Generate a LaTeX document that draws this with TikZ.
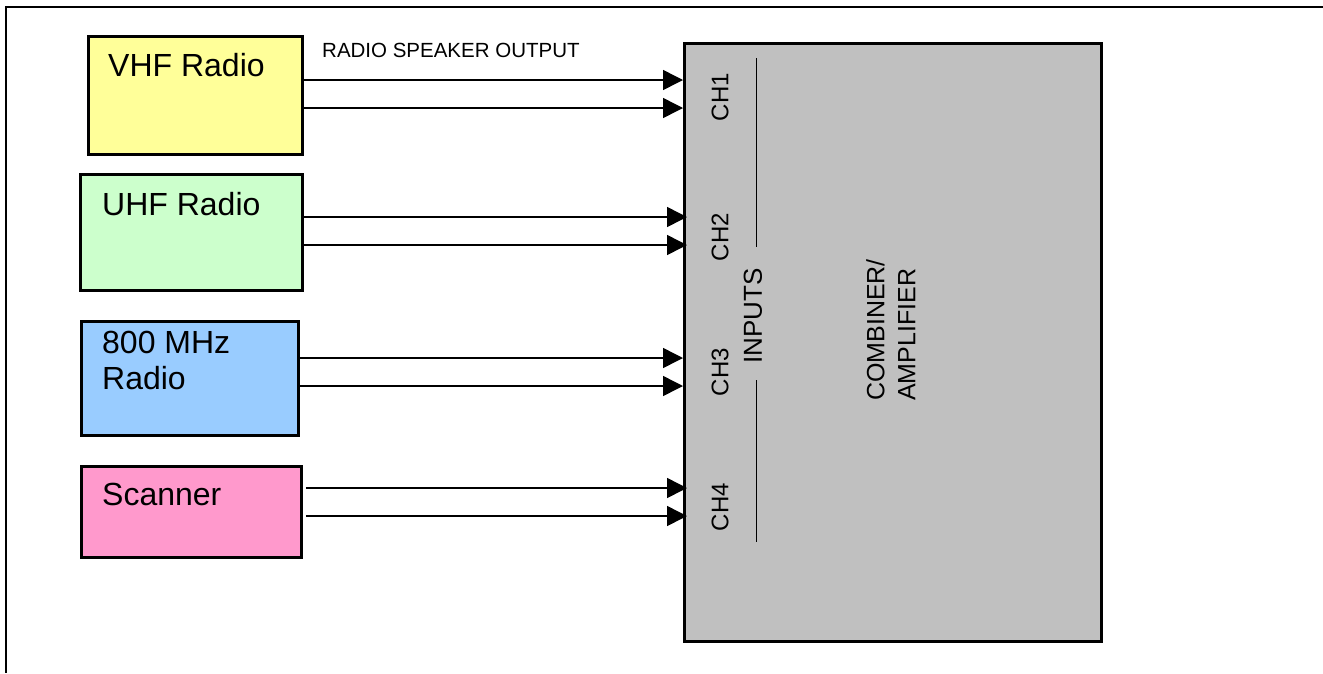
\documentclass[tikz,border=0pt]{standalone}
\usepackage{fontspec}
\setmainfont{Liberation Sans}
\usetikzlibrary{arrows.meta}
\definecolor{vhfc}{HTML}{FFFF99}
\definecolor{uhfc}{HTML}{CCFFCC}
\definecolor{mhzc}{HTML}{99CCFF}
\definecolor{scnc}{HTML}{FF99CC}
\definecolor{combc}{HTML}{C0C0C0}
\tikzset{
  radiobox/.style={draw=black, line width=2.8pt, inner sep=0pt, anchor=north west},
  boxtext/.style={anchor=base west, inner sep=0pt, font=\fontsize{32}{36}\selectfont},
  sig/.style={line width=1.5pt, -{Triangle[length=20pt,width=20pt]}},
  chlabel/.style={rotate=90, inner sep=0pt, font=\fontsize{24}{28}\selectfont},
  divider/.style={line width=1pt},
  frame/.style={line width=2.4pt}
}
\begin{document}
\begin{tikzpicture}[x=1pt,y=-1pt]
\useasboundingbox (0,0) rectangle (1323,673);
% outer frame (top and left edges visible)
\coordinate (ftr) at (1323,7);
\coordinate (ftl) at (6,7);
\coordinate (fbl) at (6,673);
\draw[frame] (ftr) -- (ftl) -- (fbl);
% radio boxes
\node[radiobox, fill=vhfc, minimum width=214pt, minimum height=118pt] (vhf) at (87,35) {};
\node[radiobox, fill=uhfc, minimum width=222pt, minimum height=116pt] (uhf) at (79,173) {};
\node[radiobox, fill=mhzc, minimum width=217pt, minimum height=114pt] (mhz) at (80,320) {};
\node[radiobox, fill=scnc, minimum width=220pt, minimum height=91pt] (scn) at (80,465) {};
\node[boxtext] (tvhf) at (108,76) {VHF Radio};
\node[boxtext] (tuhf) at (102,215) {UHF Radio};
\node[boxtext, align=left, anchor=north west] (tmhz) at (102,331) {800 MHz\\[-0.5pt]Radio};
\node[boxtext] (tscn) at (102,505) {Scanner};
% combiner
\node[radiobox, fill=combc, minimum width=417pt, minimum height=598pt] (comb) at (683,42) {};
% label
\node[anchor=base west, inner sep=0pt, font=\fontsize{20.5}{24}\selectfont] (rso) at (322,57) {RADIO SPEAKER OUTPUT};
% signal y levels
\coordinate (a1) at (0,80);  \coordinate (a2) at (0,108);
\coordinate (b1) at (0,217); \coordinate (b2) at (0,245);
\coordinate (c1) at (0,358); \coordinate (c2) at (0,386);
\coordinate (d1) at (0,488); \coordinate (d2) at (0,516);
\draw[sig] (vhf.east |- a1) -- (comb.west |- a1);
\draw[sig] (vhf.east |- a2) -- (comb.west |- a2);
\draw[sig] (uhf.east |- b1) -- ([xshift=4pt]comb.west |- b1);
\draw[sig] (uhf.east |- b2) -- ([xshift=4pt]comb.west |- b2);
\draw[sig] (mhz.east |- c1) -- (comb.west |- c1);
\draw[sig] (mhz.east |- c2) -- (comb.west |- c2);
\draw[sig] ([xshift=3pt]scn.east |- d1) -- ([xshift=4pt]comb.west |- d1);
\draw[sig] ([xshift=3pt]scn.east |- d2) -- ([xshift=4pt]comb.west |- d2);
% channel labels
\node[chlabel] (ch1) at (720,97) {CH1};
\node[chlabel] (ch2) at (720,237) {CH2};
\node[chlabel] (ch3) at (720,372) {CH3};
\node[chlabel] (ch4) at (720,507) {CH4};
\node[chlabel, font=\fontsize{26}{30}\selectfont] (inp) at (753,316) {INPUTS};
% dividers
\coordinate (l1t) at (756,58);  \coordinate (l1b) at (756,247);
\coordinate (l2t) at (756,380); \coordinate (l2b) at (756,542);
\draw[divider] (l1t) -- (l1b);
\draw[divider] (l2t) -- (l2b);
% combiner text
\node[rotate=90, inner sep=0pt, anchor=north west, align=left, font=\fontsize{25}{31}\selectfont] (ctext) at (866,401) {COMBINER/\\AMPLIFIER};
\end{tikzpicture}
\end{document}
